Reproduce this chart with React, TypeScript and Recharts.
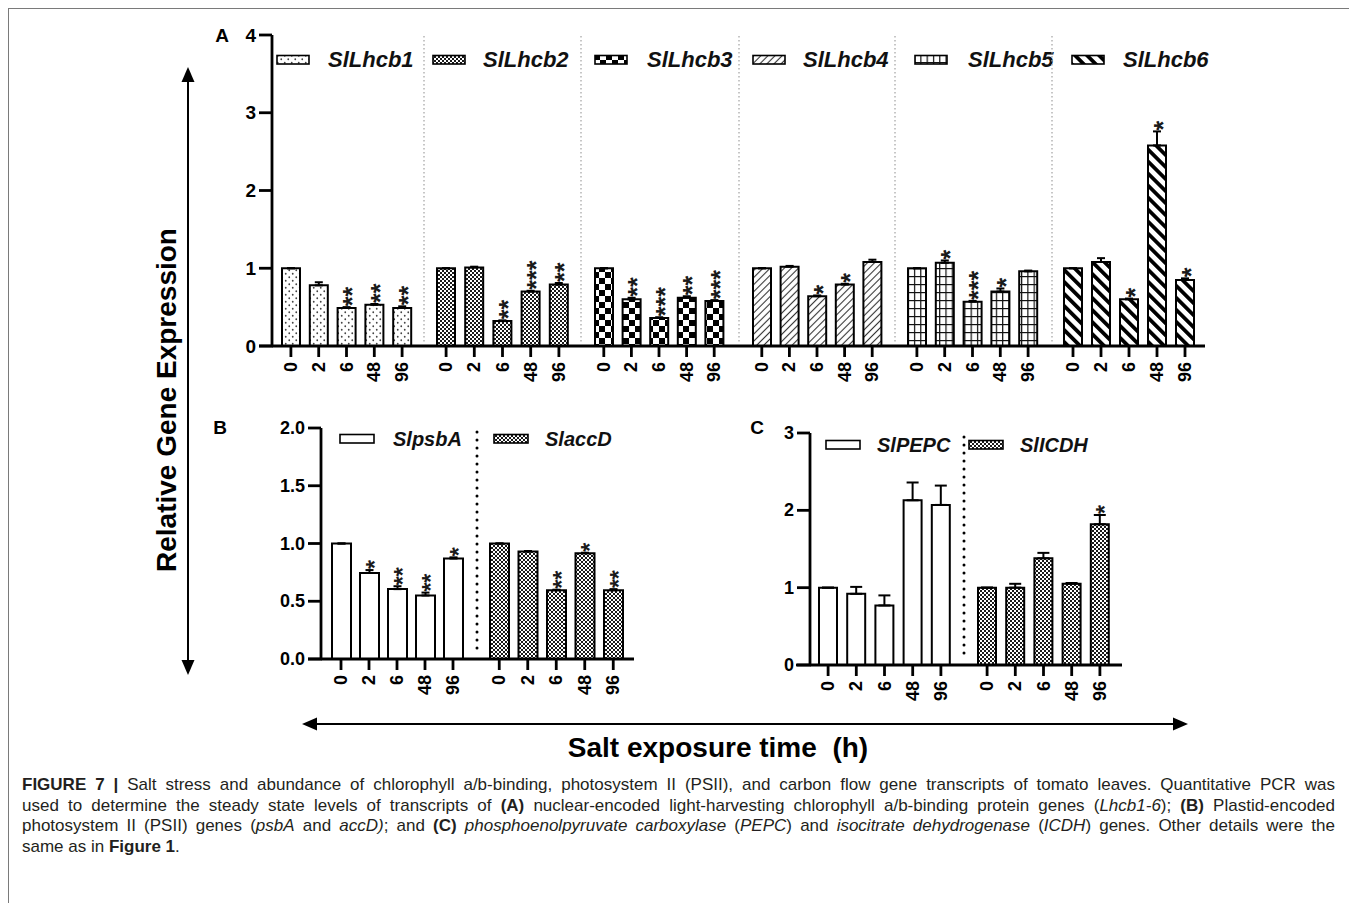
import React from 'react';
import { BarChart, Bar, XAxis, YAxis, ErrorBar, LabelList } from 'recharts';

// ---------------- DATA ----------------
const TIME_POINTS = ['0', '2', '6', '48', '96'];

// Panel A – light-harvesting chlorophyll a/b-binding protein genes
const LHCB_GENES = ['SlLhcb1', 'SlLhcb2', 'SlLhcb3', 'SlLhcb4', 'SlLhcb5', 'SlLhcb6'];
const LHCB1_MEAN = [1.0, 0.78, 0.49, 0.53, 0.49];
const LHCB1_ERR = [0, 0.04, 0.01, 0.01, 0.02];
const LHCB1_SIG = ['', '', '**', '**', '**'];
const LHCB2_MEAN = [1.0, 1.01, 0.32, 0.7, 0.79];
const LHCB2_ERR = [0, 0.01, 0.01, 0.01, 0.02];
const LHCB2_SIG = ['', '', '**', '***', '**'];
const LHCB3_MEAN = [1.0, 0.6, 0.36, 0.62, 0.58];
const LHCB3_ERR = [0, 0.02, 0.01, 0.02, 0.01];
const LHCB3_SIG = ['', '**', '***', '**', '***'];
const LHCB4_MEAN = [1.0, 1.02, 0.64, 0.79, 1.08];
const LHCB4_ERR = [0, 0.01, 0.01, 0.01, 0.03];
const LHCB4_SIG = ['', '', '*', '*', ''];
const LHCB5_MEAN = [1.0, 1.07, 0.57, 0.7, 0.96];
const LHCB5_ERR = [0, 0.03, 0.01, 0.04, 0.01];
const LHCB5_SIG = ['', '*', '***', '*', ''];
const LHCB6_MEAN = [1.0, 1.08, 0.6, 2.58, 0.85];
const LHCB6_ERR = [0, 0.05, 0.01, 0.18, 0.02];
const LHCB6_SIG = ['', '', '*', '*', '*'];

// Panel B – plastid-encoded PSII genes
const PSII_GENES = ['SlpsbA', 'SlaccD'];
const PSBA_MEAN = [1.0, 0.745, 0.605, 0.55, 0.87];
const PSBA_ERR = [0, 0.025, 0.025, 0.025, 0.01];
const PSBA_SIG = ['', '*', '**', '**', '*'];
const ACCD_MEAN = [1.0, 0.93, 0.595, 0.915, 0.595];
const ACCD_ERR = [0, 0.005, 0.005, 0.005, 0.01];
const ACCD_SIG = ['', '', '**', '*', '**'];

// Panel C – carbon flow genes
const CARBON_GENES = ['SlPEPC', 'SlICDH'];
const PEPC_MEAN = [1.0, 0.92, 0.77, 2.13, 2.07];
const PEPC_ERR = [0, 0.09, 0.13, 0.23, 0.25];
const PEPC_SIG = ['', '', '', '', ''];
const ICDH_MEAN = [1.0, 1.0, 1.38, 1.05, 1.82];
const ICDH_ERR = [0, 0.05, 0.07, 0.01, 0.12];
const ICDH_SIG = ['', '', '', '', '*'];

const A_TICKS = [0, 1, 2, 3, 4];
const B_TICKS = [0, 0.5, 1, 1.5, 2];
const C_TICKS = [0, 1, 2, 3];

const Y_TITLE = 'Relative Gene Expression';
const X_TITLE = 'Salt exposure time  (h)';

type Row = { t: string; v: number; e: number; sig: string };
const makeRows = (mean: number[], err: number[], sig: string[]): Row[] =>
  TIME_POINTS.map((t, i) => ({ t, v: mean[i], e: err[i], sig: sig[i] }));

const A_ROWS = [
  makeRows(LHCB1_MEAN, LHCB1_ERR, LHCB1_SIG),
  makeRows(LHCB2_MEAN, LHCB2_ERR, LHCB2_SIG),
  makeRows(LHCB3_MEAN, LHCB3_ERR, LHCB3_SIG),
  makeRows(LHCB4_MEAN, LHCB4_ERR, LHCB4_SIG),
  makeRows(LHCB5_MEAN, LHCB5_ERR, LHCB5_SIG),
  makeRows(LHCB6_MEAN, LHCB6_ERR, LHCB6_SIG),
];
const B_ROWS = [makeRows(PSBA_MEAN, PSBA_ERR, PSBA_SIG), makeRows(ACCD_MEAN, ACCD_ERR, ACCD_SIG)];
const C_ROWS = [makeRows(PEPC_MEAN, PEPC_ERR, PEPC_SIG), makeRows(ICDH_MEAN, ICDH_ERR, ICDH_SIG)];

// ---------------- STYLE / LAYOUT ----------------
const FONT = '"Liberation Sans", Arial, Helvetica, sans-serif';
const OX = 8;
const OY = 8;

const A_FILLS = ['url(#pat-dots)', 'url(#pat-fine)', 'url(#pat-checker)', 'url(#pat-diag)', 'url(#pat-grid)', 'url(#pat-stripe)'];
const B_FILLS = ['#fff', 'url(#pat-fine)'];
const C_FILLS = ['#fff', 'url(#pat-fine)'];

const A_LAYOUT = [
  { left: 200, width: 224, yWidth: 72, padL: 5, padR: 8, swatch: 276, text: 328 },
  { left: 424, width: 157, yWidth: 0, padL: 8, padR: 8, swatch: 432, text: 483 },
  { left: 581, width: 158, yWidth: 0, padL: 9, padR: 11, swatch: 594, text: 647 },
  { left: 739, width: 156, yWidth: 0, padL: 9, padR: 9, swatch: 752, text: 803 },
  { left: 895, width: 157, yWidth: 0, padL: 8, padR: 10, swatch: 914, text: 968 },
  { left: 1052, width: 153, yWidth: 0, padL: 7, padR: 6, swatch: 1071, text: 1123 },
];
const B_LAYOUT = [
  { left: 250, width: 227, yWidth: 71, padL: 6, padR: 10, swatch: 339, text: 393 },
  { left: 477, width: 157, yWidth: 0, padL: 8, padR: 6.5, swatch: 493, text: 545 },
];
const C_LAYOUT = [
  { left: 740, width: 224, yWidth: 70, padL: 4, padR: 9, swatch: 825, text: 877 },
  { left: 964, width: 158, yWidth: 0, padL: 9, padR: 8, swatch: 968, text: 1020 },
];

type PanelCfg = {
  top: number;
  marginTop: number;
  plotH: number;
  axisH: number;
  domain: [number, number];
  ticks: number[];
  fmt: (v: number) => string;
  barSize: number;
  capW: number;
  starSize: number;
  yFont: number;
  xFont: number;
};

const A_CFG: PanelCfg = {
  top: 20, marginTop: 15, plotH: 311, axisH: 50, domain: [0, 4], ticks: A_TICKS,
  fmt: (v) => String(v), barSize: 18, capW: 4, starSize: 25, yFont: 19, xFont: 18,
};
const B_CFG: PanelCfg = {
  top: 413, marginTop: 15, plotH: 231, axisH: 50, domain: [0, 2], ticks: B_TICKS,
  fmt: (v) => v.toFixed(1), barSize: 19, capW: 4, starSize: 23, yFont: 18, xFont: 18,
};
const C_CFG: PanelCfg = {
  top: 418, marginTop: 15, plotH: 232, axisH: 50, domain: [0, 3], ticks: C_TICKS,
  fmt: (v) => String(v), barSize: 18, capW: 6, starSize: 23, yFont: 18, xFont: 18,
};

// ---------------- COMPONENTS ----------------
function PatternDefs() {
  return (
    <svg width={0} height={0} style={{ position: 'absolute' }} aria-hidden="true">
      <defs>
        <pattern id="pat-dots" patternUnits="userSpaceOnUse" width={7} height={7}>
          <rect width={7} height={7} fill="#fff" />
          <circle cx={1.75} cy={1.75} r={0.9} fill="#444" />
          <circle cx={5.25} cy={5.25} r={0.9} fill="#444" />
        </pattern>
        <pattern id="pat-fine" patternUnits="userSpaceOnUse" width={4} height={4}>
          <rect width={4} height={4} fill="#fff" />
          <rect x={0} y={0} width={2} height={2} fill="#1a1a1a" />
          <rect x={2} y={2} width={2} height={2} fill="#1a1a1a" />
        </pattern>
        <pattern id="pat-checker" patternUnits="userSpaceOnUse" width={12} height={12}>
          <rect width={12} height={12} fill="#fff" />
          <rect x={0} y={0} width={6} height={6} fill="#000" />
          <rect x={6} y={6} width={6} height={6} fill="#000" />
        </pattern>
        <pattern id="pat-diag" patternUnits="userSpaceOnUse" width={5} height={5} patternTransform="rotate(45)">
          <rect width={5} height={5} fill="#fff" />
          <line x1={2.5} y1={0} x2={2.5} y2={5} stroke="#333" strokeWidth={1.1} />
        </pattern>
        <pattern id="pat-grid" patternUnits="userSpaceOnUse" width={6.3} height={8}>
          <rect width={6.3} height={8} fill="#fff" />
          <line x1={0.6} y1={0} x2={0.6} y2={8} stroke="#111" strokeWidth={1.2} />
          <line x1={0} y1={0.6} x2={6.3} y2={0.6} stroke="#111" strokeWidth={1.2} />
        </pattern>
        <pattern id="pat-stripe" patternUnits="userSpaceOnUse" width={8.5} height={8.5} patternTransform="rotate(-45)">
          <rect width={8.5} height={8.5} fill="#fff" />
          <rect x={0} y={0} width={3.8} height={8.5} fill="#000" />
        </pattern>
      </defs>
    </svg>
  );
}

function GroupChart({ rows, fill, layout, cfg }: { rows: Row[]; fill: string; layout: typeof A_LAYOUT[number]; cfg: PanelCfg }) {
  const height = cfg.marginTop + cfg.plotH + cfg.axisH;

  const renderStars = (p: any) => {
    const vb = p.viewBox || {};
    const x = p.x ?? vb.x;
    const y = p.y ?? vb.y;
    const w = p.width ?? vb.width;
    const h = p.height ?? vb.height;
    const row = rows.find((r) => r.t === String(p.value));
    if (!row || !row.sig || x == null) return null;
    const pxPerUnit = row.v > 0 ? Math.abs(h) / row.v : 0;
    const top = Math.min(y, y + h) - row.e * pxPerUnit - 1;
    const cx = x + w / 2;
    return (
      <g transform={`translate(${cx},${top}) rotate(-90)`}>
        <text x={0} y={cfg.starSize * 0.58} fontSize={cfg.starSize} fontWeight="bold" fill="#1a1a1a" textAnchor="start" fontFamily={FONT}>
          {row.sig}
        </text>
      </g>
    );
  };

  const xTick = (p: any) => (
    <g transform={`translate(${p.x},${p.y})`}>
      <text transform="rotate(-90)" textAnchor="end" dominantBaseline="central" fontSize={cfg.xFont} fontWeight="bold" fontFamily={FONT} fill="#000">
        {p.payload.value}
      </text>
    </g>
  );
  const yTick = (p: any) => (
    <text x={p.x} y={p.y} textAnchor="end" dominantBaseline="central" fontSize={cfg.yFont} fontWeight="bold" fontFamily={FONT} fill="#000">
      {cfg.fmt(p.payload.value)}
    </text>
  );

  return (
    <div style={{ position: 'absolute', left: layout.left - OX, top: cfg.top - OY }}>
      <BarChart width={layout.width} height={height} data={rows} margin={{ top: cfg.marginTop, right: 0, bottom: 0, left: 0 }}>
        <XAxis
          dataKey="t"
          height={cfg.axisH}
          padding={{ left: layout.padL, right: layout.padR }}
          axisLine={{ stroke: '#000', strokeWidth: 2.8 }}
          tickLine={{ stroke: '#000', strokeWidth: 2.8 }}
          tickSize={11}
          tickMargin={5}
          interval={0}
          tick={xTick}
        />
        {layout.yWidth > 0 ? (
          <YAxis
            width={layout.yWidth}
            domain={cfg.domain}
            ticks={cfg.ticks}
            allowDataOverflow
            interval={0}
            axisLine={{ stroke: '#000', strokeWidth: 2.8 }}
            tickLine={{ stroke: '#000', strokeWidth: 2.8 }}
            tickSize={13}
            tickMargin={3}
            tick={yTick}
          />
        ) : (
          <YAxis hide domain={cfg.domain} ticks={cfg.ticks} allowDataOverflow />
        )}
        <Bar dataKey="v" fill={fill} stroke="#000" strokeWidth={2} barSize={cfg.barSize} isAnimationActive={false}>
          <ErrorBar dataKey={(d: Row) => [0, d.e]} width={cfg.capW} stroke="#000" strokeWidth={2} direction="y" />
          <LabelList dataKey="t" content={renderStars} />
        </Bar>
      </BarChart>
    </div>
  );
}

function LegendItem({ swatchX, textX, cy, fill, label, fontSize, swatchW }: any) {
  return (
    <>
      <svg style={{ position: 'absolute', left: swatchX - OX, top: cy - 6 - OY }} width={swatchW + 3} height={12}>
        <rect x={1} y={1.5} width={swatchW} height={8.5} fill={fill} stroke="#000" strokeWidth={1.6} />
      </svg>
      <div
        style={{
          position: 'absolute',
          left: textX - OX,
          top: cy - OY,
          transform: 'translateY(-50%)',
          fontFamily: FONT,
          fontWeight: 'bold',
          fontStyle: 'italic',
          fontSize,
          lineHeight: 1,
          whiteSpace: 'nowrap',
          color: '#111',
        }}
      >
        {label}
      </div>
    </>
  );
}

function Overlay() {
  const aDividers = A_LAYOUT.slice(1).map((l) => l.left);
  const arrow = { stroke: '#000', strokeWidth: 2 };
  return (
    <svg style={{ position: 'absolute', left: 0, top: 0, pointerEvents: 'none' }} width={1347} height={900}>
      <g transform={`translate(${-OX},${-OY})`}>
        {aDividers.map((x) => (
          <line key={x} x1={x} x2={x} y1={36} y2={344} stroke="#a8a8a8" strokeWidth={1.3} strokeDasharray="1.5 2.5" />
        ))}
        <line x1={B_LAYOUT[1].left} x2={B_LAYOUT[1].left} y1={432} y2={654} stroke="#000" strokeWidth={3} strokeDasharray="0 8" strokeLinecap="round" />
        <line x1={C_LAYOUT[1].left} x2={C_LAYOUT[1].left} y1={437} y2={660} stroke="#000" strokeWidth={3} strokeDasharray="0 8" strokeLinecap="round" />

        {/* x-axis extensions left of y axes (GraphPad style) */}
        <line x1={259} x2={273} y1={346} y2={346} stroke="#000" strokeWidth={2.8} />
        <line x1={308} x2={322} y1={659} y2={659} stroke="#000" strokeWidth={2.8} />
        <line x1={796} x2={811} y1={665} y2={665} stroke="#000" strokeWidth={2.8} />

        {/* vertical arrow */}
        <line x1={188} x2={188} y1={78} y2={664} {...arrow} />
        <polygon points="188,67 181.5,82 194.5,82" fill="#000" />
        <polygon points="188,675 181.5,660 194.5,660" fill="#000" />
        {/* horizontal arrow */}
        <line x1={313} x2={1177} y1={724} y2={724} {...arrow} />
        <polygon points="302,724 317,717.5 317,730.5" fill="#000" />
        <polygon points="1188,724 1173,717.5 1173,730.5" fill="#000" />

        <text x={222} y={35} textAnchor="middle" dominantBaseline="central" fontSize={19} fontWeight="bold" fontFamily={FONT}>A</text>
        <text x={220} y={427} textAnchor="middle" dominantBaseline="central" fontSize={19} fontWeight="bold" fontFamily={FONT}>B</text>
        <text x={757} y={427} textAnchor="middle" dominantBaseline="central" fontSize={19} fontWeight="bold" fontFamily={FONT}>C</text>

        <text transform="translate(166,400) rotate(-90)" textAnchor="middle" dominantBaseline="central" fontSize={28} fontWeight="bold" fontFamily={FONT}>
          {Y_TITLE}
        </text>
        <text x={718} y={747} textAnchor="middle" dominantBaseline="central" fontSize={28} fontWeight="bold" fontFamily={FONT} style={{ whiteSpace: 'pre' }}>
          {X_TITLE}
        </text>
      </g>
    </svg>
  );
}

function Caption() {
  const line: React.CSSProperties = { textAlign: 'justify', textAlignLast: 'justify', height: '20.7px' };
  return (
    <div
      style={{
        position: 'absolute',
        left: 22 - OX,
        top: 775 - OY,
        width: 1313,
        fontFamily: FONT,
        fontSize: 17,
        lineHeight: '20.7px',
        color: '#231f20',
      }}
    >
      <div style={line}>
        <b>FIGURE 7 |</b> Salt stress and abundance of chlorophyll a/b-binding, photosystem II (PSII), and carbon flow gene transcripts of tomato leaves. Quantitative PCR was
      </div>
      <div style={line}>
        used to determine the steady state levels of transcripts of <b>(A)</b> nuclear-encoded light-harvesting chlorophyll a/b-binding protein genes (<i>Lhcb1-6</i>); <b>(B)</b> Plastid-encoded
      </div>
      <div style={line}>
        photosystem II (PSII) genes (<i>psbA</i> and <i>accD)</i>; and <b>(C)</b> <i>phosphoenolpyruvate carboxylase</i> (<i>PEPC</i>) and <i>isocitrate dehydrogenase</i> (<i>ICDH</i>) genes. Other details were the
      </div>
      <div>
        same as in <b>Figure 1</b>.
      </div>
    </div>
  );
}

export default function App() {
  return (
    <div style={{ position: 'relative', width: 1347, height: 900, background: '#fff', fontFamily: FONT }}>
      <style>{`html,body{overflow:hidden;background:#fff;}`}</style>
      <PatternDefs />
      <div style={{ position: 'absolute', left: 0, top: 0, width: 1347, height: 900, boxSizing: 'border-box', border: '1.5px solid #7a7a7a' }} />

      {A_ROWS.map((rows, i) => (
        <GroupChart key={`a${i}`} rows={rows} fill={A_FILLS[i]} layout={A_LAYOUT[i]} cfg={A_CFG} />
      ))}
      {B_ROWS.map((rows, i) => (
        <GroupChart key={`b${i}`} rows={rows} fill={B_FILLS[i]} layout={B_LAYOUT[i]} cfg={B_CFG} />
      ))}
      {C_ROWS.map((rows, i) => (
        <GroupChart key={`c${i}`} rows={rows} fill={C_FILLS[i]} layout={C_LAYOUT[i]} cfg={C_CFG} />
      ))}

      {LHCB_GENES.map((g, i) => (
        <LegendItem key={g} swatchX={A_LAYOUT[i].swatch} textX={A_LAYOUT[i].text} cy={60} fill={A_FILLS[i]} label={g} fontSize={22} swatchW={32} />
      ))}
      {PSII_GENES.map((g, i) => (
        <LegendItem key={g} swatchX={B_LAYOUT[i].swatch} textX={B_LAYOUT[i].text} cy={439} fill={B_FILLS[i]} label={g} fontSize={20} swatchW={34} />
      ))}
      {CARBON_GENES.map((g, i) => (
        <LegendItem key={g} swatchX={C_LAYOUT[i].swatch} textX={C_LAYOUT[i].text} cy={445} fill={C_FILLS[i]} label={g} fontSize={20} swatchW={34} />
      ))}

      <Overlay />
      <Caption />
    </div>
  );
}
